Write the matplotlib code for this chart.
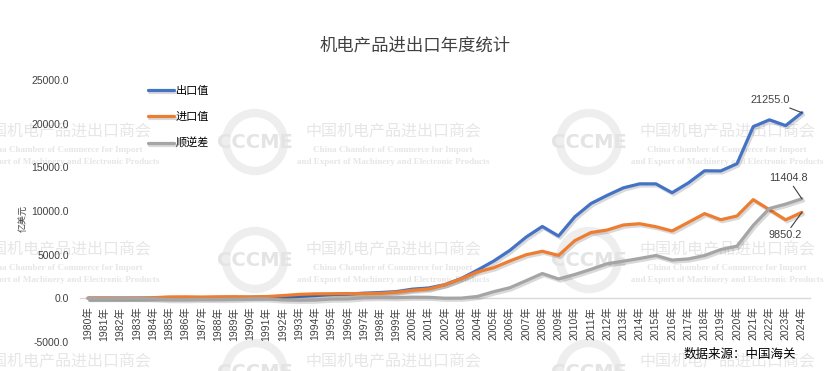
import matplotlib
matplotlib.use("Agg")
from matplotlib import pyplot as plt
from matplotlib import patheffects as pe
from matplotlib.patches import Ellipse

plt.rcParams["font.family"] = ["Liberation Sans", "Noto Sans CJK SC", "DejaVu Sans"]

years = list(range(1980, 2025))

# 出口值 (亿美元)
exports = [14, 20, 20, 22, 26, 17, 21, 34, 47, 73,
           111, 140, 132, 227, 320, 439, 482, 593, 665, 770,
           1053, 1188, 1571, 2275, 3234, 4267, 5494, 7012, 8229, 7131,
           9334, 10856, 11794, 12655, 13109, 13107, 12092, 13215, 14603, 14589,
           15411, 19658, 20440, 19780, 21255.0]

# 进口值 (亿美元)
imports = [40, 45, 35, 40, 70, 162, 170, 150, 180, 190,
           170, 200, 315, 450, 515, 526, 548, 528, 569, 694,
           919, 1070, 1556, 2250, 3018, 3504, 4277, 4990, 5387, 4914,
           6603, 7533, 7824, 8401, 8543, 8200, 7714, 8700, 9700, 9000,
           9430, 11300, 10150, 8990, 9850.2]

# 顺逆差 (亿美元)
balance = [-26, -25, -15, -18, -44, -145, -149, -116, -133, -117,
           -59, -60, -183, -223, -195, -87, -66, 65, 96, 76,
           134, 118, 15, 25, 216, 763, 1217, 2022, 2842, 2217,
           2731, 3323, 3970, 4254, 4566, 4907, 4378, 4515, 4903, 5589,
           5981, 8358, 10290, 10790, 11404.8]

series_names = ["出口值", "进口值", "顺逆差"]
colors = ["#4472C4", "#ED7D31", "#A5A5A5"]

W, H = 830, 371
fig = plt.figure(figsize=(W / 100, H / 100), dpi=100)


def px(x, y):
    # pixel position (from top-left) -> figure fraction
    return x / W, 1 - y / H


# faint watermark blocks behind the chart
wm_cn = "中国机电产品进出口商会"
wm_en1 = "China Chamber of Commerce for Import"
wm_en2 = "and Export of Machinery and Electronic Products"
for cy in (132, 250, 362):
    for cx in (63, 393, 727):
        fig.text(*px(cx, cy), wm_cn, ha="center", va="center", fontsize=11.5,
                 color="#e6e6e6", family=["Noto Sans CJK SC"], zorder=-2)
        fig.text(*px(cx, cy + 18), wm_en1, ha="center", va="center", fontsize=6.5,
                 color="#e6e6e6", family=["Liberation Serif"], weight="bold", zorder=-2)
        fig.text(*px(cx, cy + 30), wm_en2, ha="center", va="center", fontsize=6.5,
                 color="#e6e6e6", family=["Liberation Serif"], weight="bold", zorder=-2)
        lx, ly = cx - 138, cy + 10
        ring = Ellipse(px(lx, ly), 58 / W, 58 / H, transform=fig.transFigure,
                       fill=False, edgecolor="#eeeeee", linewidth=6, zorder=-3)
        fig.add_artist(ring)
        fig.text(*px(lx, ly), "CCCME", ha="center", va="center", fontsize=14,
                 color="#e4e4e4", weight="bold", family=["DejaVu Sans"], zorder=-2)

ax = fig.add_axes([80 / W, 1 - 342 / H, 730 / W, 262 / H])
ax.set_facecolor("none")

for s in ("top", "right", "left"):
    ax.spines[s].set_visible(False)
ax.spines["bottom"].set_position(("data", 0))
ax.spines["bottom"].set_color("#d9d9d9")
ax.spines["bottom"].set_linewidth(1)
ax.spines["bottom"].set_zorder(1)

shadow = [pe.SimpleLineShadow(offset=(1.2, -1.5), shadow_color="#000000", alpha=0.15),
          pe.Normal()]
for vals, name, c in zip([exports, imports, balance], series_names, colors):
    ax.plot(years, vals, color=c, lw=2.3, label=name, solid_capstyle="round",
            path_effects=shadow, zorder=3)

ax.set_xlim(1979.5, 2024.5)
ax.set_ylim(-5000, 25000)
ax.set_yticks(range(-5000, 25001, 5000))
ax.set_yticklabels([f"{v:.1f}" for v in range(-5000, 25001, 5000)])
ax.set_xticks(years)
ax.set_xticklabels([f"{y}年" for y in years])
ax.tick_params(axis="x", length=0, pad=6, labelsize=7.5, labelcolor="#404040",
               labelrotation=90)
ax.tick_params(axis="y", length=0, pad=8, labelsize=7.5, labelcolor="#404040")

# end-point labels
ann = dict(fontsize=7.8, color="#404040", textcoords="offset points",
           arrowprops=dict(arrowstyle="-", color="#404040", lw=0.8, shrinkA=0, shrinkB=0))
ax.annotate(f"{exports[-1]:.1f}", (years[-1], exports[-1]), xytext=(-9, 9),
            ha="right", va="center", **ann)
ax.annotate(f"{balance[-1]:.1f}", (years[-1], balance[-1]), xytext=(-10, 11),
            ha="center", va="bottom", **ann)
ax.annotate(f"{imports[-1]:.1f}", (years[-1], imports[-1]), xytext=(-12, -13),
            ha="center", va="top", **ann)

fig.legend(loc="upper left", bbox_to_anchor=px(142, 80), frameon=False,
           fontsize=8, handlelength=2.4, handletextpad=0.15, labelspacing=1.45,
           borderpad=0)

fig.text(*px(415, 45), "机电产品进出口年度统计", ha="center", va="center",
         fontsize=12.5, color="#404040")
fig.text(*px(23, 218), "亿美元", ha="center", va="center", rotation=90,
         fontsize=6.5, color="#404040")
fig.text(*px(796, 355), "数据来源：中国海关", ha="right", va="center",
         fontsize=9, color="#000000")

fig.savefig("out.png", dpi=100)
